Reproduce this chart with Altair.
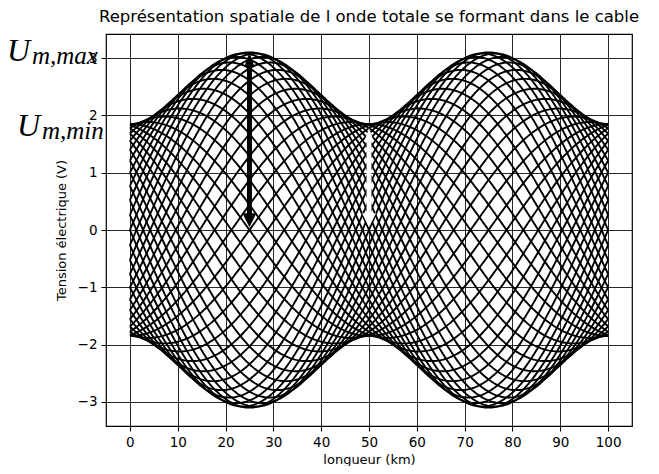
import altair as alt
import numpy as np
import pandas as pd

# ---- values ----
U_MAX = 3.1            # envelope maximum (V) at 25 km and 75 km
U_MIN = 1.85           # envelope minimum (V) at 0, 50, 100 km
WAVELENGTH_KM = 100.0  # two maxima of the envelope 50 km apart
CABLE_LENGTH_KM = 100.0
N_SNAPSHOTS = 44       # number of instants drawn over one period
X_TICKS = [0, 10, 20, 30, 40, 50, 60, 70, 80, 90, 100]
Y_TICKS = [-3, -2, -1, 0, 1, 2, 3]
ARROW_MAX_X = 25.0     # black arrow: 0 -> U_MAX
ARROW_MIN_X = 50.0     # white arrow: 0 -> U_MIN
WHITE_TOP = 1.78

TITLE = "Représentation spatiale de l onde totale se formant dans le cable"
X_TITLE = "longueur (km)"
Y_TITLE = "Tension électrique (V)"

# incident + reflected wave snapshots
A = (U_MAX + U_MIN) / 2
B = (U_MAX - U_MIN) / 2
k = 2 * np.pi / WAVELENGTH_KM
xs = np.linspace(0, CABLE_LENGTH_KM, 401)
frames = []
for i in range(N_SNAPSHOTS):
    phi = 2 * np.pi * i / N_SNAPSHOTS
    u = A * np.cos(phi - k * xs) - B * np.cos(phi + k * xs)
    frames.append(pd.DataFrame({"x": xs, "u": u, "snap": i}))
waves = pd.concat(frames, ignore_index=True)

xscale = alt.Scale(domain=[-5, 105], nice=False, zero=False)
yscale = alt.Scale(domain=[-3.42, 3.42], nice=False, zero=False)

xaxis = alt.Axis(values=X_TICKS, title=X_TITLE, grid=True, tickSize=5,
                 labelPadding=4, titlePadding=5, format="d")
yaxis = alt.Axis(values=Y_TICKS, title=Y_TITLE, grid=True, tickSize=5,
                 labelPadding=4, titlePadding=9, format="d")

lines = alt.Chart(waves).mark_line(color="black", strokeWidth=1.9).encode(
    x=alt.X("x:Q", scale=xscale, axis=xaxis),
    y=alt.Y("u:Q", scale=yscale, axis=yaxis),
    detail="snap:N",
)

# arrows
px_per_v = 392 / 6.84
head_half = 7 / px_per_v
arrows = pd.DataFrame({
    "x": [ARROW_MAX_X, ARROW_MIN_X],
    "y1": [0.05 + head_half, 0.05 + head_half],
    "y2": [U_MAX - head_half, WHITE_TOP - head_half],
    "col": ["black", "white"],
})
shafts = alt.Chart(arrows).mark_rule(strokeWidth=5).encode(
    x="x:Q", y="y1:Q", y2="y2:Q",
    color=alt.Color("col:N", scale=None),
)
heads = pd.DataFrame({
    "x": [ARROW_MAX_X, ARROW_MAX_X, ARROW_MIN_X, ARROW_MIN_X],
    "y": [0.05 + head_half, U_MAX - head_half, 0.05 + head_half, WHITE_TOP - head_half],
    "shape": ["M-1,-1L1,-1L0,1Z", "M-0.7,1L0.7,1L0,-1Z", "M-1,-1L1,-1L0,1Z", "M-0.7,1L0.7,1L0,-1Z"],
    "col": ["black", "black", "white", "white"],
})
head_marks = alt.Chart(heads).mark_point(filled=True, size=196, opacity=1, strokeWidth=0).encode(
    x="x:Q", y="y:Q",
    shape=alt.Shape("shape:N", scale=None),
    color=alt.Color("col:N", scale=None),
)

# U_{m,max} / U_{m,min} labels
labels = pd.DataFrame({"y": [U_MAX, U_MIN], "big": ["U", "U"], "sub": ["m,max", "m,min"]})
big_u = alt.Chart(labels.iloc[[0]]).mark_text(
    font="Liberation Serif", fontStyle="italic", fontSize=32, align="left",
    baseline="alphabetic", dy=9, color="black"
).encode(x=alt.value(-99), y="y:Q", text="big:N")
sub_u = alt.Chart(labels.iloc[[0]]).mark_text(
    font="Liberation Serif", fontStyle="italic", fontSize=25, align="left",
    baseline="alphabetic", dy=12, color="black"
).encode(x=alt.value(-74), y="y:Q", text="sub:N")
big_u2 = alt.Chart(labels.iloc[[1]]).mark_text(
    font="Liberation Serif", fontStyle="italic", fontSize=32, align="left",
    baseline="alphabetic", dy=12, color="black"
).encode(x=alt.value(-89), y="y:Q", text="big:N")
sub_u2 = alt.Chart(labels.iloc[[1]]).mark_text(
    font="Liberation Serif", fontStyle="italic", fontSize=25, align="left",
    baseline="alphabetic", dy=15, color="black"
).encode(x=alt.value(-64), y="y:Q", text="sub:N")

chart = alt.layer(lines, shafts, head_marks, big_u, sub_u, big_u2, sub_u2).properties(
    width=526, height=392,
    title=alt.TitleParams(TITLE, fontSize=16.5, font="DejaVu Sans", fontWeight="normal",
                          color="black", anchor="middle", offset=9),
    autosize=alt.AutoSizeParams(type="none"),
    padding={"left": 98, "top": 26, "right": 19, "bottom": 40},
    background="white",
).configure_view(stroke="black", strokeWidth=1.2).configure_axis(
    labelFont="DejaVu Sans", titleFont="DejaVu Sans", labelFontSize=13.5, titleFontSize=13,
    labelColor="black", titleColor="black", titleFontWeight="normal",
    tickColor="black", domain=False, gridColor="#111", gridWidth=1, gridOpacity=0.9,
)

chart.save("out.html", embed_options={"renderer": "svg", "actions": False})
